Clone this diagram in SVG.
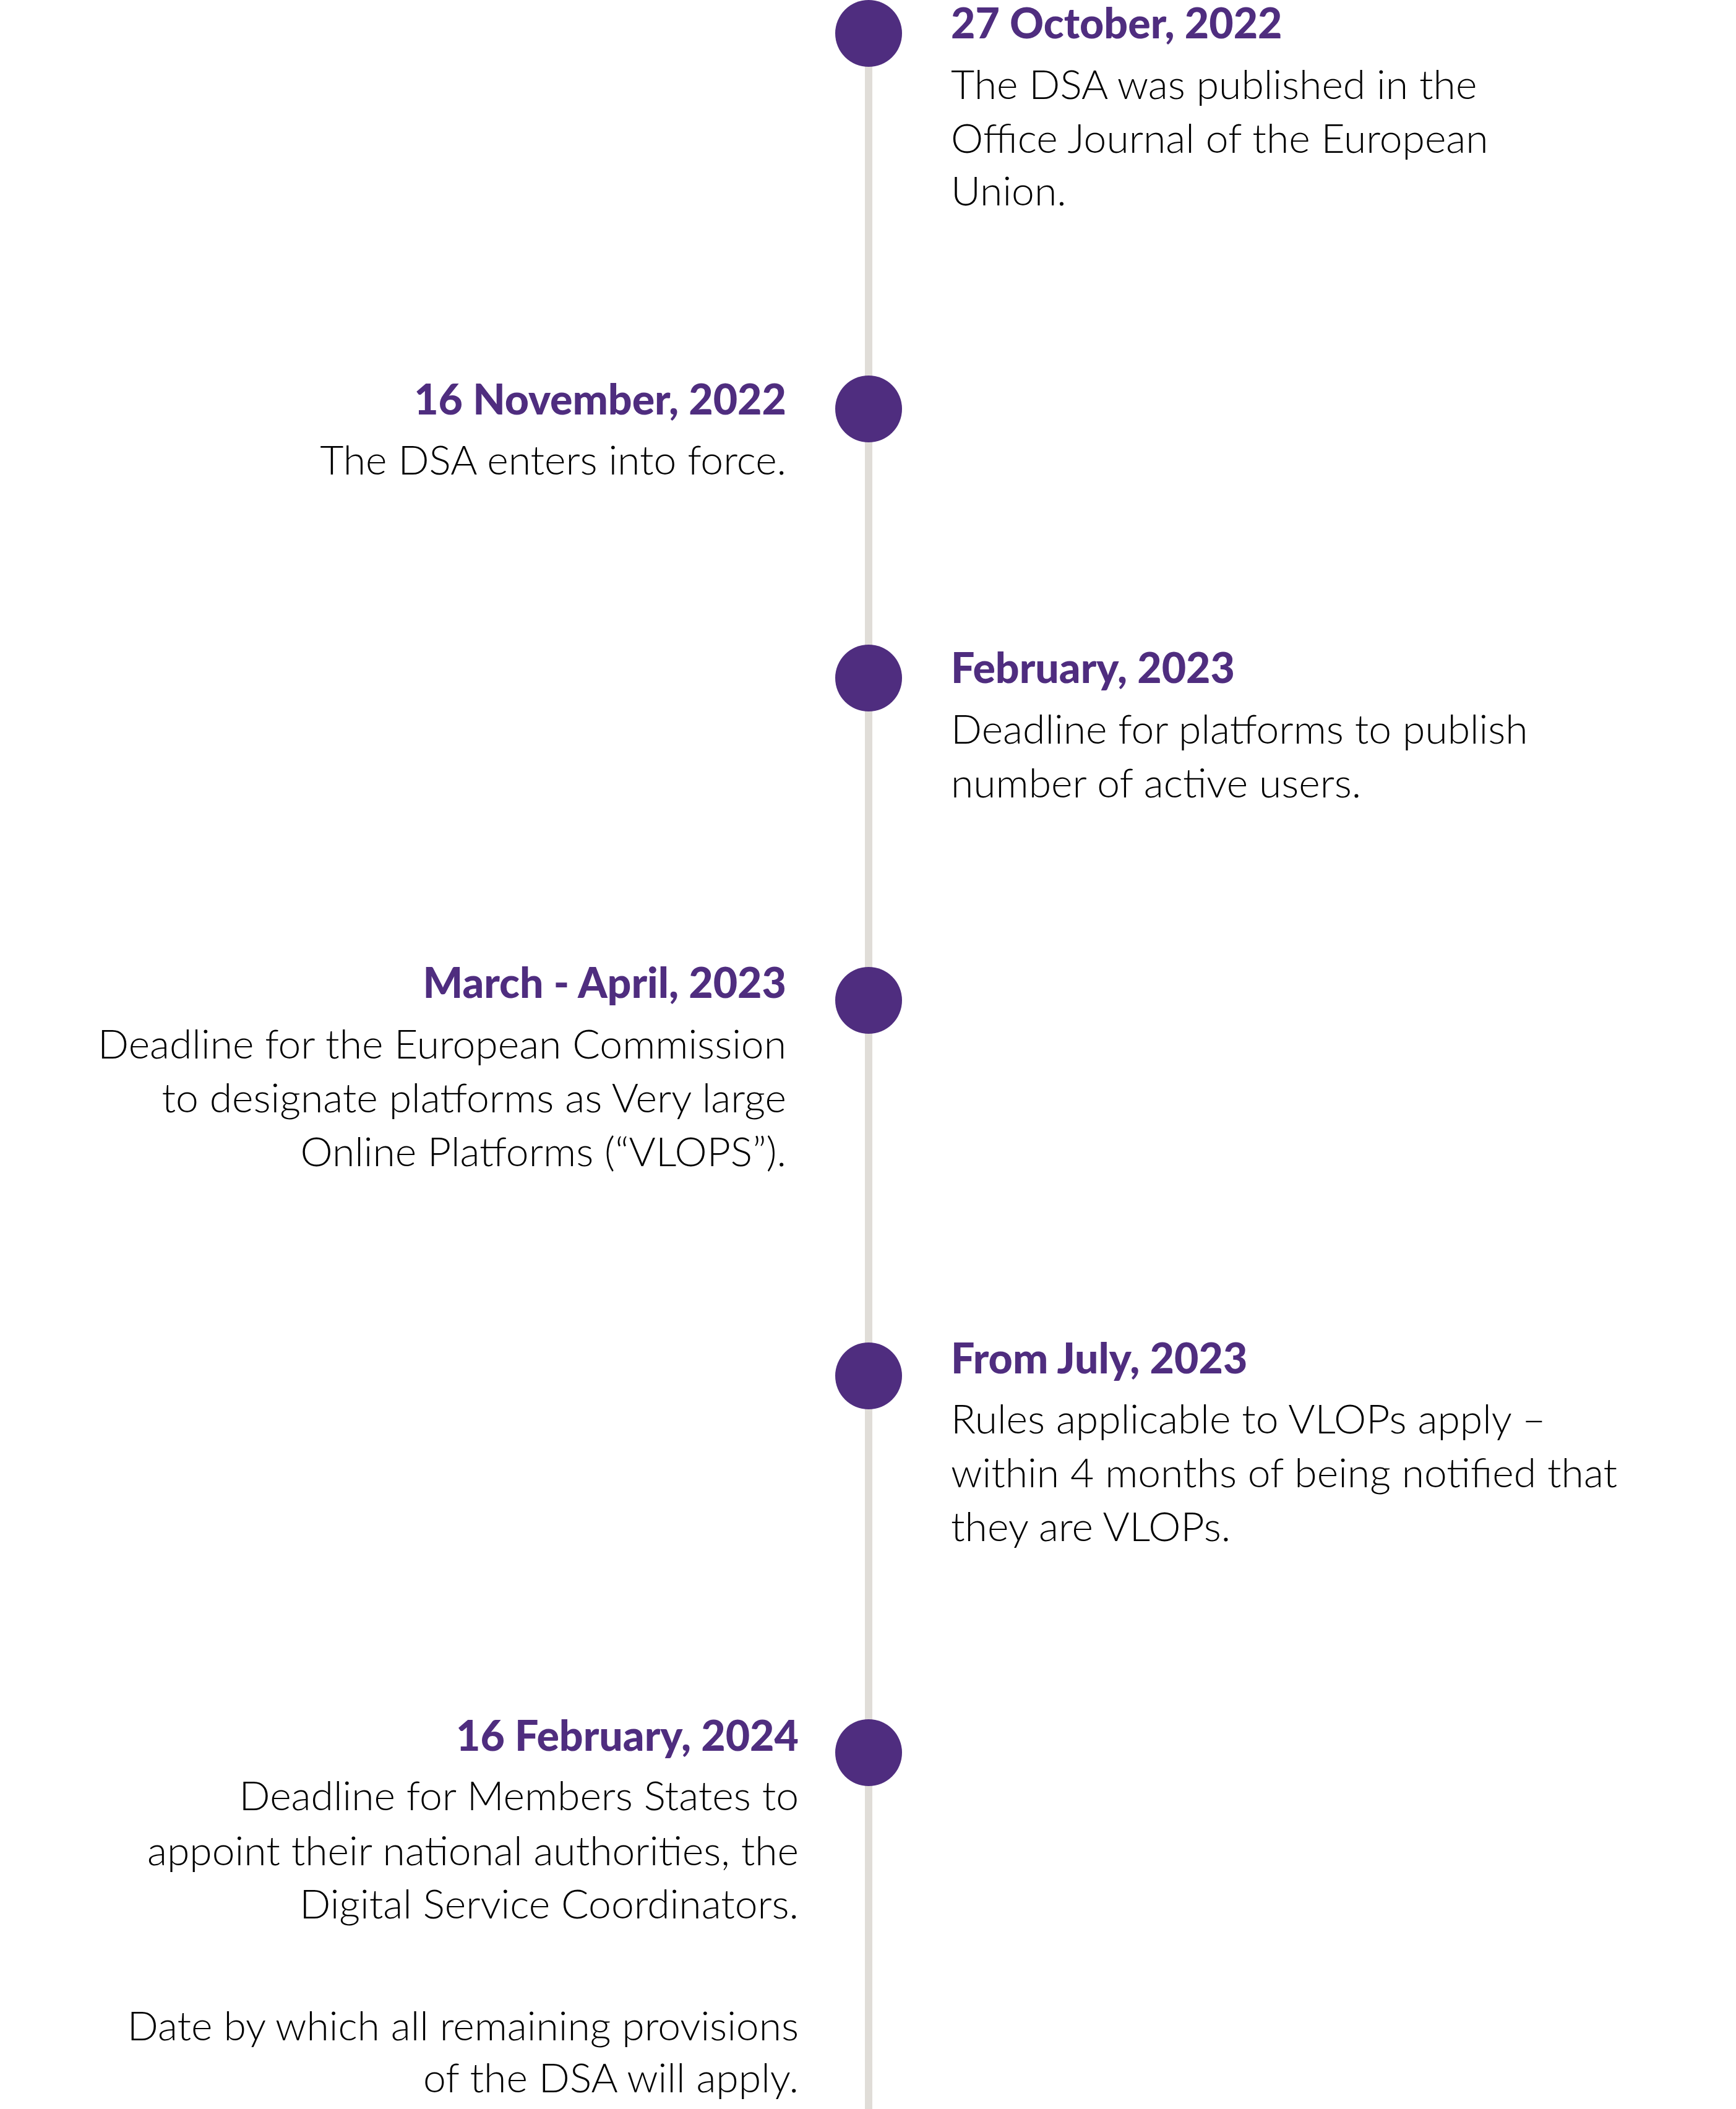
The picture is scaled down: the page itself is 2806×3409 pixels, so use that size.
<svg xmlns="http://www.w3.org/2000/svg" width="2806" height="3409" viewBox="0 0 2806 3409">
<style>
.t{font-family:"Lato","Liberation Sans",sans-serif;font-weight:900;font-size:68px;fill:#4f2d7f}
.b{font-family:"Lato","Liberation Sans",sans-serif;font-weight:300;font-size:66px;fill:#000}
.r{text-anchor:end}
.d{fill:#4f2d7f}
</style>
<rect width="2806" height="3409" fill="#fff"/>
<g id="connectors"><line x1="1404" y1="54" x2="1404" y2="3409" stroke="#e0ddd8" stroke-width="12"/></g>
<g id="n1"><circle class="d" cx="1404" cy="54" r="54"/>
<text class="t" x="1537" y="62">27 October, 2022</text>
<text class="b" x="1537" y="160">The DSA was published in the</text>
<text class="b" x="1537" y="247">Office Journal of the European</text>
<text class="b" x="1537" y="332">Union.</text></g>
<g id="n2"><circle class="d" cx="1404" cy="661" r="54"/>
<text class="t r" x="1271" y="670">16 November, 2022</text>
<text class="b r" x="1271" y="767">The DSA enters into force.</text></g>
<g id="n3"><circle class="d" cx="1404" cy="1096" r="54"/>
<text class="t" x="1537" y="1104">February, 2023</text>
<text class="b" x="1537" y="1202">Deadline for platforms to publish</text>
<text class="b" x="1537" y="1289">number of active users.</text></g>
<g id="n4"><circle class="d" cx="1404" cy="1617" r="54"/>
<text class="t r" x="1271" y="1613">March - April, 2023</text>
<text class="b r" x="1271" y="1711">Deadline for the European Commission</text>
<text class="b r" x="1271" y="1798">to designate platforms as Very large</text>
<text class="b r" x="1271" y="1885">Online Platforms (“VLOPS”).</text></g>
<g id="n5"><circle class="d" cx="1404" cy="2224" r="54"/>
<text class="t" x="1537" y="2220">From July, 2023</text>
<text class="b" x="1537" y="2317">Rules applicable to VLOPs apply –</text>
<text class="b" x="1537" y="2404">within 4 months of being notified that</text>
<text class="b" x="1537" y="2491">they are VLOPs.</text></g>
<g id="n6"><circle class="d" cx="1404" cy="2833" r="54"/>
<text class="t r" x="1291" y="2830">16 February, 2024</text>
<text class="b r" x="1291" y="2926">Deadline for Members States to</text>
<text class="b r" x="1291" y="3015">appoint their national authorities, the</text>
<text class="b r" x="1291" y="3101">Digital Service Coordinators.</text>
<text class="b r" x="1291" y="3298">Date by which all remaining provisions</text>
<text class="b r" x="1291" y="3382">of the DSA will apply.</text></g>
</svg>
